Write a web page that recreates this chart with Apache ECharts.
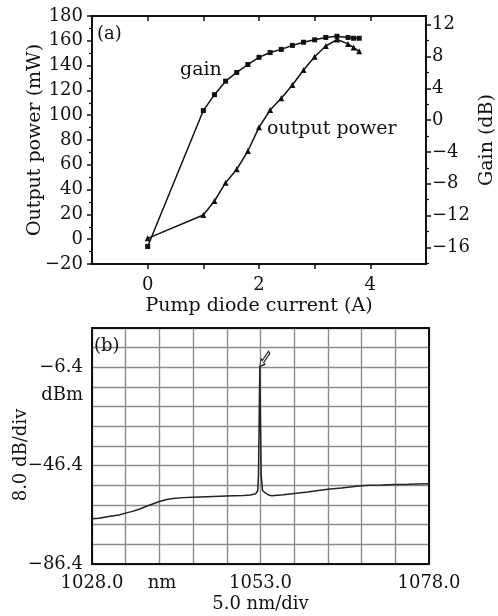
<!DOCTYPE html>
<html>
<head>
<meta charset="utf-8">
<script src="https://cdn.jsdelivr.net/npm/echarts@6/dist/echarts.min.js"></script>
<style>
html,body{margin:0;padding:0;background:#fff;}
#chart{width:498px;height:616px;}
</style>
</head>
<body>
<div id="chart"></div>
<script>
// ---- data (a) ----
const gainCurrent = [0, 1.0, 1.2, 1.4, 1.6, 1.8, 2.0, 2.2, 2.4, 2.6, 2.8, 3.0, 3.2, 3.4, 3.6, 3.7, 3.8];
const gainDb      = [-15.9, 1.2, 3.2, 4.9, 6.0, 7.0, 7.9, 8.5, 8.9, 9.4, 9.8, 10.1, 10.4, 10.55, 10.4, 10.3, 10.3];
const powerCurrent = [0, 1.0, 1.2, 1.4, 1.6, 1.8, 2.0, 2.2, 2.4, 2.6, 2.8, 3.0, 3.2, 3.4, 3.6, 3.7, 3.8];
const powerMw      = [0.7, 19.5, 30.8, 45.6, 56.4, 71.1, 90.2, 104.2, 113.6, 124.4, 136.5, 147.2, 155.8, 161, 157.5, 154.5, 151.5];
const currentTicks = [0, 1, 2, 3, 4];
const currentLabels = [0, 2, 4];
const gainTicks = [-16, -12, -8, -4, 0, 4, 8, 12];
const gainMinorTicks = [-18, -14, -10, -6, -2, 2, 6, 10];

// ---- data (b) ----
const wavelengthNm = [1028.0, 1029.0, 1030.7, 1032.0, 1033.1, 1034.0, 1035.1, 1036.0, 1037.1, 1038.0, 1039.1, 1040.0, 1041.5, 1043.0, 1044.0, 1046.0, 1048.0, 1049.0, 1050.5, 1051.5, 1052.3, 1052.6, 1052.7, 1052.8, 1052.9, 1053.0, 1053.1, 1053.3, 1053.7, 1054.2, 1054.7, 1055.5, 1056.4, 1058.0, 1060.0, 1061.3, 1063.0, 1065.0, 1066.3, 1068.0, 1069.2, 1071.0, 1073.0, 1075.0, 1078.0];
const spectrumDbm  = [-68.0, -67.8, -67.0, -66.5, -65.6, -65.0, -64.0, -63.0, -61.9, -61.0, -60.2, -59.8, -59.4, -59.2, -59.1, -58.9, -58.7, -58.6, -58.5, -58.3, -57.8, -56.5, -50.0, -28.0, -6.0, -28.0, -50.0, -56.5, -57.5, -58.3, -58.6, -58.4, -58.2, -57.7, -57.1, -56.6, -56.0, -55.5, -55.1, -54.6, -54.4, -54.3, -54.1, -54.0, -53.8];
const peakMarker = [1052.9, -6.0];
const wlTicks = [1028, 1033, 1038, 1043, 1048, 1053, 1058, 1063, 1068, 1073, 1078];
const wlLabels = [1028, 1038.4, 1053, 1078];
const dbmTicks = [-86.4, -78.4, -70.4, -62.4, -54.4, -46.4, -38.4, -30.4, -22.4, -14.4, -6.4, 1.6, 9.6];
const dbmLabels = [-86.4, -46.4, -17.6, -6.4];

const FONT = 'DejaVu Serif';
const minus = v => (v < 0 ? '\u2212' : '') + Math.abs(v);
const zip = (a, b) => a.map((x, i) => [x, b[i]]);

const chart = echarts.init(document.getElementById('chart'), null, {renderer: 'canvas'});
const lbl = {color: '#111', fontFamily: FONT, fontSize: 18};
const axLine = {show: true, onZero: false, lineStyle: {color: '#111', width: 2}};

chart.setOption({
  animation: false,
  backgroundColor: '#fff',
  grid: [
    {left: 92, top: 16, width: 334, height: 248, show: true, borderColor: '#111', borderWidth: 2,
     backgroundColor: 'transparent', containLabel: false, outerBoundsMode: 'none'},
    {left: 92, top: 328, width: 337, height: 236, show: true, borderColor: '#111', borderWidth: 2,
     backgroundColor: 'transparent', containLabel: false, outerBoundsMode: 'none', z: 5}
  ],
  xAxis: [
    {gridIndex: 0, type: 'value', min: -1, max: 5, position: 'bottom',
     axisLine: axLine,
     axisTick: {show: true, customValues: currentTicks, length: 5, lineStyle: {color: '#111', width: 1.5}},
     axisLabel: Object.assign({customValues: currentLabels, margin: 12, formatter: minus}, lbl),
     splitLine: {show: false},
     name: 'Pump diode current (A)', nameLocation: 'middle', nameGap: 33, nameMoveOverlap: false,
     nameTextStyle: {color: '#111', fontFamily: FONT, fontSize: 19}},
    {gridIndex: 0, type: 'value', min: -1, max: 5, position: 'top',
     axisLine: axLine,
     axisTick: {show: true, inside: true, customValues: currentTicks, length: 5, lineStyle: {color: '#111', width: 1.5}},
     axisLabel: {show: false}, splitLine: {show: false}},
    {gridIndex: 1, type: 'value', min: 1028, max: 1078, position: 'bottom',
     axisLine: axLine,
     axisTick: {show: false, customValues: wlTicks},
     axisLabel: Object.assign({customValues: wlLabels, margin: 10,
       formatter: v => Math.abs(v - 1038.4) < 0.01 ? 'nm' : v.toFixed(1)}, lbl),
     splitLine: {show: true, lineStyle: {color: '#8c8c8c', width: 1.4}},
     name: '5.0 nm/div', nameLocation: 'middle', nameGap: 31, nameMoveOverlap: false,
     nameTextStyle: {color: '#111', fontFamily: FONT, fontSize: 18}}
  ],
  yAxis: [
    {gridIndex: 0, type: 'value', min: -20, max: 180, interval: 20, position: 'left',
     axisLine: axLine,
     axisTick: {show: true, length: 5, lineStyle: {color: '#111', width: 1.5}},
     minorTick: {show: true, splitNumber: 2, length: 3, lineStyle: {color: '#111', width: 1.2}},
     axisLabel: Object.assign({margin: 9, formatter: minus}, lbl),
     splitLine: {show: false},
     name: 'Output power (mW)', nameLocation: 'middle', nameGap: 47, nameMoveOverlap: false,
     nameTextStyle: {color: '#111', fontFamily: FONT, fontSize: 19}},
    {gridIndex: 0, type: 'value', min: -18.1, max: 13.1, position: 'right',
     axisLine: axLine,
     axisTick: {show: true, customValues: gainTicks, length: 5, lineStyle: {color: '#111', width: 1.5}},
     axisLabel: Object.assign({customValues: gainTicks, margin: 6, formatter: minus}, lbl),
     splitLine: {show: false},
     name: 'Gain (dB)', nameLocation: 'middle', nameGap: 52, nameRotate: 90, nameMoveOverlap: false,
     nameTextStyle: {color: '#111', fontFamily: FONT, fontSize: 19}},
    {gridIndex: 0, type: 'value', min: -18.1, max: 13.1, position: 'right',
     axisLine: {show: false, onZero: false},
     axisTick: {show: true, customValues: gainMinorTicks, length: 3, lineStyle: {color: '#111', width: 1.2}},
     axisLabel: {show: false}, splitLine: {show: false}},
    {gridIndex: 1, type: 'value', min: -86.4, max: 9.6, position: 'left',
     axisLine: axLine,
     axisTick: {show: false, customValues: dbmTicks},
     axisLabel: Object.assign({customValues: dbmLabels, margin: 9,
       formatter: v => Math.abs(v + 17.6) < 0.01 ? 'dBm' : minus(v.toFixed(1)) }, lbl),
     splitLine: {show: true, lineStyle: {color: '#8c8c8c', width: 1.4}},
     name: '8.0 dB/div', nameLocation: 'middle', nameGap: 62, nameMoveOverlap: false,
     nameTextStyle: {color: '#111', fontFamily: FONT, fontSize: 18, padding: [0, 18, 0, 0]}}
  ],
  series: [
    {name: 'gain', type: 'line', xAxisIndex: 0, yAxisIndex: 1, data: zip(gainCurrent, gainDb),
     symbol: 'rect', symbolSize: 5, lineStyle: {color: '#111', width: 1.5}, itemStyle: {color: '#111'}},
    {name: 'output power', type: 'line', xAxisIndex: 0, yAxisIndex: 0, data: zip(powerCurrent, powerMw),
     symbol: 'triangle', symbolSize: 6, lineStyle: {color: '#111', width: 1.5}, itemStyle: {color: '#111'}},
    {name: 'spectrum', type: 'line', xAxisIndex: 2, yAxisIndex: 3, data: zip(wavelengthNm, spectrumDbm),
     symbol: 'none', lineStyle: {color: '#222', width: 1.5}, z: 6,
     markPoint: {
       data: [{coord: peakMarker}],
       symbol: 'path://M0,16 L2.12,8.22 L3.89,9.99 L13.44,0.44 L15.56,2.56 L6.01,12.11 L7.78,13.88 Z',
       symbolSize: [10, 15], symbolKeepAspect: false, symbolOffset: [5, -7.5],
       itemStyle: {color: '#fff', borderColor: '#222', borderWidth: 1.2},
       label: {show: false}
     }}
  ],
  graphic: [
    {type: 'text', left: 97, top: 25, style: {text: '(a)', font: '18px "DejaVu Serif"', fill: '#111'}},
    {type: 'text', left: 180, top: 61, style: {text: 'gain', font: '19px "DejaVu Serif"', fill: '#111'}},
    {type: 'text', left: 267, top: 120, style: {text: 'output power', font: '19px "DejaVu Serif"', fill: '#111'}},
    {type: 'text', left: 94, top: 337, z: 10, style: {text: '(b)', font: '18px "DejaVu Serif"', fill: '#111'}}
  ]
});
</script>
</body>
</html>
